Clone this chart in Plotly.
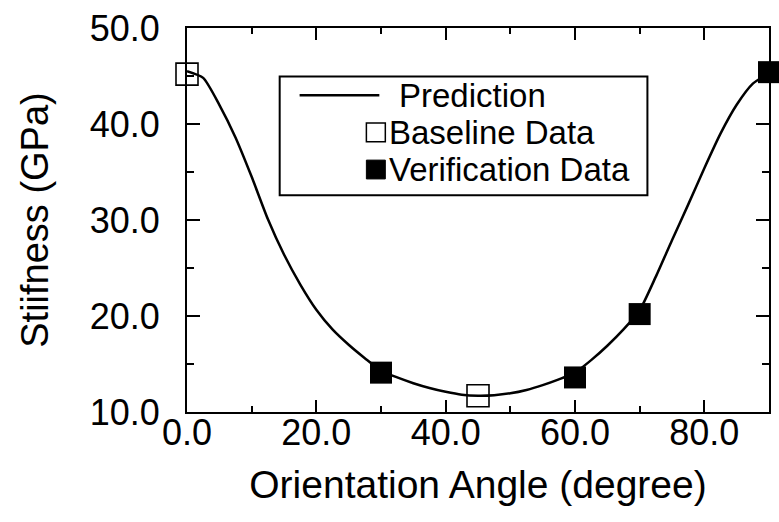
import plotly.graph_objects as go

# Prediction curve: stiffness vs. fibre orientation angle
pred_angle = [0, 2.5, 5, 7.5, 10, 12.5, 15, 17.5, 20, 22.5, 25, 27.5, 30, 32.5,
              35, 37.5, 40, 42.5, 45, 47.5, 50, 52.5, 55, 57.5, 60, 62.5, 65,
              67.5, 70, 72.5, 75, 77.5, 80, 82.5, 85, 87.5, 90]
pred_stiff = [45.5, 44.8, 42.0, 38.6, 34.5, 30.1, 26.4, 23.3, 20.65, 18.6, 17.0,
              15.6, 14.3, 13.6, 13.0, 12.5, 12.1, 11.8, 11.7, 11.75, 11.95, 12.3,
              12.8, 13.4, 14.1, 15.4, 16.9, 18.6, 20.6, 24.1, 27.9, 31.6, 35.4,
              39.0, 42.0, 44.2, 45.3]

# Measured data
baseline_angle = [0, 45]
baseline_stiff = [45.2, 11.7]
verif_angle = [30, 60, 70, 90]
verif_stiff = [14.1, 13.6, 20.2, 45.4]

x_ticks = [0, 20, 40, 60, 80]
y_ticks = [10, 20, 30, 40, 50]

FONT = "Liberation Sans, Arial, Helvetica, sans-serif"
W, H = 779, 522
ML, MR, MT, MB = 187, 8, 24, 110
PW, PH = W - ML - MR, H - MT - MB


def px(x):
    return (x - ML) / PW


def py(y):
    return (H - MB - y) / PH


fig = go.Figure()
fig.add_trace(go.Scatter(x=pred_angle, y=pred_stiff, mode="lines",
                         line=dict(color="black", width=2.5, shape="spline", smoothing=0.6),
                         name="Prediction", showlegend=False, cliponaxis=False))
fig.add_trace(go.Scatter(x=baseline_angle, y=baseline_stiff, mode="markers",
                         marker=dict(symbol="square-open", size=22, color="black",
                                     line=dict(width=1.6, color="black")),
                         name="Baseline Data", showlegend=False, cliponaxis=False))
fig.add_trace(go.Scatter(x=verif_angle, y=verif_stiff, mode="markers",
                         marker=dict(symbol="square", size=22, color="black",
                                     line=dict(width=0)),
                         name="Verification Data", showlegend=False, cliponaxis=False))

axis_common = dict(showgrid=False, zeroline=False, showline=True, linecolor="black",
                   linewidth=2, mirror="ticks", ticks="inside", tickcolor="black",
                   tickwidth=2, tickformat=".1f",
                   tickfont=dict(family=FONT, size=36, color="black"))

fig.update_xaxes(range=[0, 90], tickvals=x_ticks, ticklen=12,
                 minor=dict(dtick=10, tick0=10, ticks="inside", ticklen=6,
                            tickwidth=2, tickcolor="black"),
                 ticklabelstandoff=-12,
                 title=dict(text="Orientation Angle (degree)",
                            font=dict(family=FONT, size=39, color="black"), standoff=18),
                 **axis_common)
fig.update_yaxes(range=[10, 50], tickvals=y_ticks, ticklen=13,
                 minor=dict(dtick=5, tick0=15, ticks="inside", ticklen=7,
                            tickwidth=2, tickcolor="black"),
                 ticklabelstandoff=18,
                 title=dict(text="Stiifness (GPa)",
                            font=dict(family=FONT, size=38, color="black"), standoff=29),
                 **axis_common)

# Legend drawn inside the axes
rows = {"Prediction": 92, "Baseline Data": 129.5, "Verification Data": 167}
half = 9.5
shapes = [
    dict(type="rect", xref="paper", yref="paper", x0=px(280), x1=px(649),
         y0=py(193), y1=py(73), line=dict(color="black", width=2), fillcolor="white",
         layer="above"),
    dict(type="line", xref="paper", yref="paper", x0=px(300), x1=px(380),
         y0=py(rows["Prediction"]), y1=py(rows["Prediction"]),
         line=dict(color="black", width=2.5), layer="above"),
    dict(type="rect", xref="paper", yref="paper", x0=px(367), x1=px(386),
         y0=py(rows["Baseline Data"] + half), y1=py(rows["Baseline Data"] - half),
         line=dict(color="black", width=1.5), fillcolor="white", layer="above"),
    dict(type="rect", xref="paper", yref="paper", x0=px(367), x1=px(386),
         y0=py(rows["Verification Data"] + half), y1=py(rows["Verification Data"] - half),
         line=dict(color="black", width=1), fillcolor="black", layer="above"),
]
text_left = {"Prediction": 398, "Baseline Data": 388, "Verification Data": 388}
annotations = [dict(text=t, xref="paper", yref="paper", x=px(text_left[t]), y=py(yc),
                    xanchor="left", yanchor="middle", showarrow=False,
                    font=dict(family=FONT, size=33, color="black"))
               for t, yc in rows.items()]

fig.update_layout(width=W, height=H, margin=dict(l=ML, r=MR, t=MT, b=MB),
                  paper_bgcolor="white", plot_bgcolor="white",
                  shapes=shapes, annotations=annotations, showlegend=False)

fig.write_html("out.html")
